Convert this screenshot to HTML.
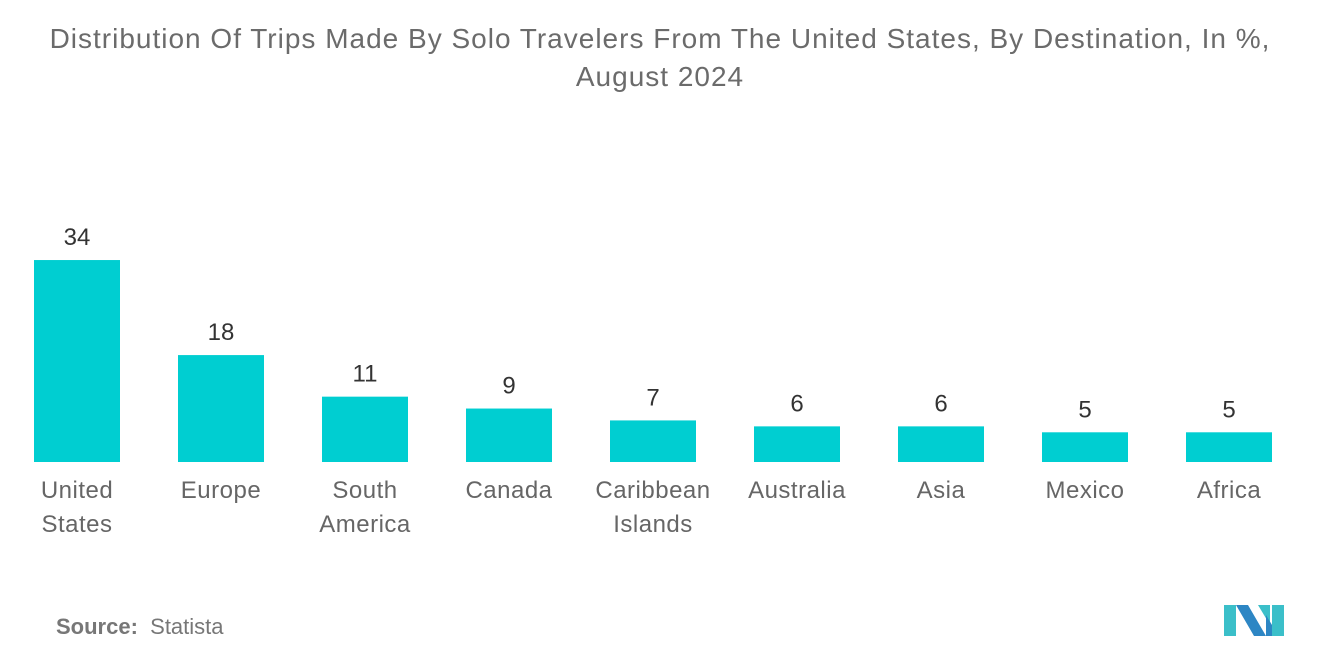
<!DOCTYPE html>
<html><head><meta charset="utf-8"><style>
body{margin:0;width:1320px;height:665px;background:#fff;font-family:"Liberation Sans",sans-serif;overflow:hidden;position:relative}
#title{position:absolute;top:20px;left:0;width:1320px;text-align:center;font-size:28px;letter-spacing:1px;line-height:38px;color:#6b6b6b}
#src{position:absolute;left:56px;top:614px;font-size:22px;color:#777}
</style></head><body>
<div id="title">Distribution Of Trips Made By Solo Travelers From The United States, By Destination, In %,<br>August 2024</div>
<svg id="chart" width="1320" height="665" style="position:absolute;left:0;top:0"></svg>
<div id="src"><b>Source:</b>&nbsp;&nbsp;Statista</div>
<svg width="70" height="40" style="position:absolute;left:1222px;top:603px">
<polygon points="2,2 14,2 14,33 2,33" fill="#3bbfc9"/>
<polygon points="14,2 26,2 44,33 32,33" fill="#2d86c4"/>
<polygon points="36,2 48,2 48,22" fill="#3bbfc9"/>
<polygon points="50,2 62,2 62,33 50,33" fill="#3bbfc9"/>
<polygon points="44,12 50,22 50,33 44,33" fill="#2d86c4"/>
</svg>
<script>
const categories=[["United","States"],["Europe"],["South","America"],["Canada"],["Caribbean","Islands"],["Australia"],["Asia"],["Mexico"],["Africa"]];
const values=[34,18,11,9,7,6,6,5,5];
const svg=document.getElementById('chart');
const NS='http://www.w3.org/2000/svg';
const baseY=462,pxPerUnit=5.94,x0=34,step=144,bw=86;
const xPos=i=>x0+i*step;
const yPos=v=>baseY-v*pxPerUnit;
values.forEach((v,i)=>{
 const r=document.createElementNS(NS,'rect');
 r.setAttribute('x',xPos(i));r.setAttribute('y',yPos(v));
 r.setAttribute('width',bw);r.setAttribute('height',baseY-yPos(v));
 r.setAttribute('fill','#00ced1');
 
 
 svg.appendChild(r);
 const t=document.createElementNS(NS,'text');
 t.setAttribute('x',xPos(i)+bw/2);t.setAttribute('y',yPos(v)-15);
 t.setAttribute('text-anchor','middle');t.setAttribute('font-size','24');t.setAttribute('fill','#333');
 t.textContent=v;
 
 
 svg.appendChild(t);
 categories[i].forEach((line,j)=>{
  const l=document.createElementNS(NS,'text');
  l.setAttribute('x',xPos(i)+bw/2);l.setAttribute('y',498+j*34);
  l.setAttribute('text-anchor','middle');l.setAttribute('font-size','24');l.setAttribute('fill','#666');
  l.setAttribute('letter-spacing','0.5');
  l.textContent=line;
  
  
  svg.appendChild(l);
 });
});
</script>
</body></html>
